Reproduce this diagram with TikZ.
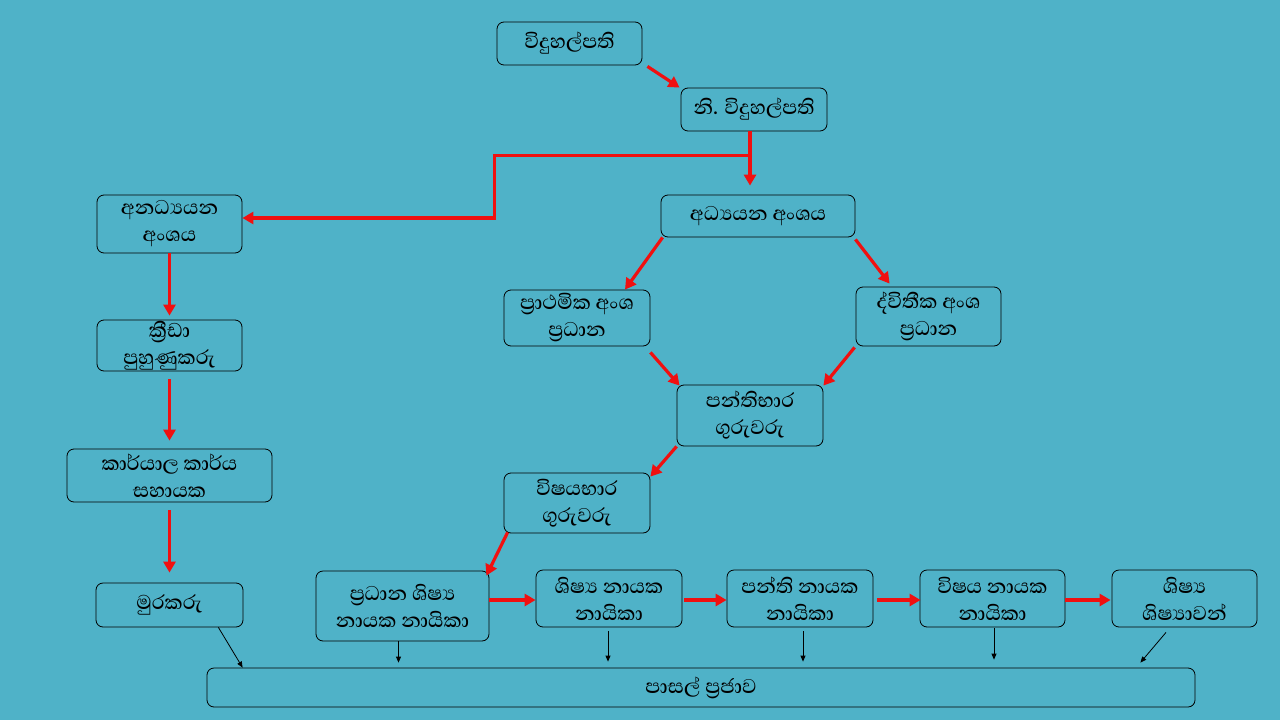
\documentclass[tikz,border=0pt]{standalone}
\usepackage{fontspec}
\newfontfamily\sinhalafont[Script=Sinhala,UprightFont=* Medium]{Abhaya Libre}
\usetikzlibrary{arrows.meta,calc}
\definecolor{bg}{RGB}{79,178,200}
\definecolor{arrred}{RGB}{240,16,16}
\begin{document}
\begin{tikzpicture}[x=1pt,y=-1pt,
  box/.style={draw=black, line width=0.8pt, rounded corners=7pt, fill=bg, align=center, inner sep=0pt, font=\sinhalafont\fontsize{25.5}{27}\selectfont},
  redarr/.style={draw=arrred, line width=3.2pt, -{Triangle[length=11pt,width=12pt]}},
  blkarr/.style={draw=black, line width=0.8pt, -{Triangle[length=6pt,width=5pt]}}]
\fill[bg] (0,0) rectangle (1280,720);
\useasboundingbox (0,0) rectangle (1280,720);

\node[box, minimum width=145, minimum height=43] (principal) at (569.5,43.5) {විදුහල්පති};
\node[box, minimum width=146, minimum height=43] (deputy) at (754,109.5) {නි. විදුහල්පති};
\node[box, minimum width=194, minimum height=42] (acad) at (758,216) {අධ්‍යයන අංශය};
\node[box, minimum width=145, minimum height=58] (nonacad) at (169.5,224) {අනධ්‍යයන\\අංශය};
\node[box, minimum width=145, minimum height=51] (sport) at (169.5,345.5) {ක්‍රීඩා\\පුහුණුකරු};
\node[box, minimum width=205, minimum height=53] (office) at (169.5,475.5) {කාර්යාල කාර්ය\\සහායක};
\node[box, minimum width=147, minimum height=44] (guard) at (169.5,605) {මුරකරු};
\node[box, minimum width=146, minimum height=56] (prim) at (577,318) {ප්‍රාථමික අංශ\\ප්‍රධාන};
\node[box, minimum width=145, minimum height=59] (sec) at (928.5,316.5) {ද්විතීක අංශ\\ප්‍රධාන};
\node[box, minimum width=146, minimum height=61] (class) at (750,415.5) {පන්තිභාර\\ගුරුවරු};
\node[box, minimum width=146, minimum height=60] (subj) at (577,503) {විෂයභාර\\ගුරුවරු};
\node[box, minimum width=173, minimum height=70] (head) at (402.5,606) {ප්‍රධාන ශිෂ්‍ය\\නායක නායිකා};
\node[box, minimum width=146, minimum height=57] (stud) at (609,598.5) {ශිෂ්‍ය නායක\\නායිකා};
\node[box, minimum width=146, minimum height=57] (clsl) at (800,598.5) {පන්ති නායක\\නායිකා};
\node[box, minimum width=145, minimum height=57] (subl) at (992.5,598.5) {විෂය නායක\\නායිකා};
\node[box, minimum width=145, minimum height=57] (students) at (1184.5,598.5) {ශිෂ්‍ය\\ශිෂ්‍යාවන්};
\node[box, minimum width=988, minimum height=39] (community) at (701,687.5) {පාසල් ප්‍රජාව};

% red connectors
\draw[redarr] ($(principal.south east)+(5,1)$) -- ($(deputy.north west)+(-1,0)$);
\draw[redarr] ($(deputy.south)+(-4,0)$) -- ($(acad.north)+(-8,-9)$);
\coordinate (br) at ($(deputy.south)+(-4,24)$);
\draw[redarr] (br) -| ($(nonacad.east)+(252,-6)$) -- ($(nonacad.east)+(0,-6)$);
\draw[redarr] (nonacad.south) -- ($(sport.north)+(0,-4)$);
\draw[redarr] ($(sport.south)+(0,8)$) -- ($(office.north)+(0,-8)$);
\draw[redarr] ($(office.south)+(0,8)$) -- ($(guard.north)+(0,-10)$);
\draw[redarr] ($(acad.south west)+(2,0)$) -- ($(prim.north)+(48,0)$);
\draw[redarr] ($(acad.south east)+(0,2)$) -- ($(sec.north west)+(34,-3)$);
\draw[redarr] ($(prim.south east)+(0,6)$) -- ($(class.north west)+(3,1)$);
\draw[redarr] ($(sec.south west)+(-1,1)$) -- ($(class.north east)+(0,1)$);
\draw[redarr] (class.south west) -- ($(subj.north east)+(0,4)$);
\draw[redarr] ($(subj.south west)+(4,-1)$) -- ($(head.north east)+(-3,5)$);
\draw[redarr] ($(head.east)+(0,-6)$) -- ($(stud.west)+(0,1.5)$);
\draw[redarr] ($(stud.east)+(2,1.5)$) -- ($(clsl.west)+(0,1.5)$);
\draw[redarr] ($(clsl.east)+(4,1.5)$) -- ($(subl.west)+(1,1.5)$);
\draw[redarr] ($(subl.east)+(0,1.5)$) -- ($(students.west)+(-1,1.5)$);

% black connectors
\draw[blkarr] ($(guard.south east)+(-25,0)$) -- ($(community.north west)+(36,0)$);
\draw[blkarr] ($(head.south)+(-4,0)$) -- ($(head.south |- community.north)+(-4,-5)$);
\draw[blkarr] ($(stud.south)+(-1,4)$) -- ($(stud.south |- community.north)+(-1,-6)$);
\draw[blkarr] ($(clsl.south)+(3,4)$) -- ($(clsl.south |- community.north)+(3,-6)$);
\draw[blkarr] ($(subl.south)+(1.5,1)$) -- ($(subl.south |- community.north)+(1.5,-8)$);
\draw[blkarr] ($(students.south)+(-18.5,5)$) -- ($(community.north east)+(-55,-5)$);
\end{tikzpicture}
\end{document}
